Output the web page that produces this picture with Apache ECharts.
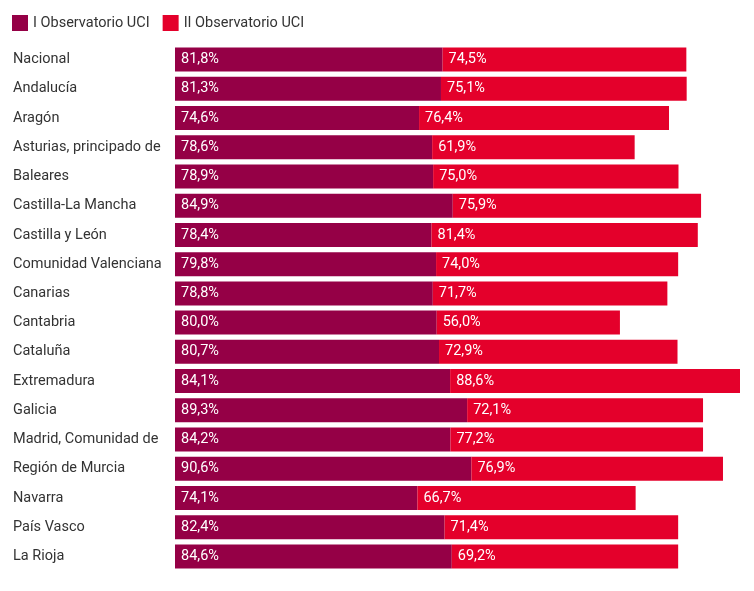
<!DOCTYPE html>
<html><head><meta charset="utf-8">
<script src="https://cdn.jsdelivr.net/npm/echarts@6/dist/echarts.min.js"></script>
<style>html,body{margin:0;padding:0;background:#fff}#c{width:754px;height:591px}</style>
</head><body><div id="c"></div>
<script>
const categories = ["Nacional","Andalucía","Aragón","Asturias, principado de","Baleares","Castilla-La Mancha","Castilla y León","Comunidad Valenciana","Canarias","Cantabria","Cataluña","Extremadura","Galicia","Madrid, Comunidad de","Región de Murcia","Navarra","País Vasco","La Rioja"];
const seriesNames = ["I Observatorio UCI","II Observatorio UCI"];
const obs1 = [81.8,81.3,74.6,78.6,78.9,84.9,78.4,79.8,78.8,80.0,80.7,84.1,89.3,84.2,90.6,74.1,82.4,84.6];
const obs2 = [74.5,75.1,76.4,61.9,75.0,75.9,81.4,74.0,71.7,56.0,72.9,88.6,72.1,77.2,76.9,66.7,71.4,69.2];
const colors = ["#950046","#e4002b"];

const totalMax = Math.max(...obs1.map((v,i)=>v+obs2[i]));
const fmt = p => p.value.toFixed(1).replace('.', ',') + '%';
const FS = 14.5;
const chart = echarts.init(document.getElementById('c'));
chart.setOption({
  animation:false,
  textStyle:{fontFamily:'Roboto'},
  legend:{left:12,top:15,padding:0,itemWidth:16,itemHeight:16,itemGap:13,icon:'rect',
    textStyle:{fontSize:FS,color:'#333',fontFamily:'Roboto'},data:seriesNames},
  grid:{left:175,right:14,top:45,bottom:20,containLabel:false},
  xAxis:{type:'value',min:0,max:totalMax,show:false},
  yAxis:{type:'category',data:categories,inverse:true,
    axisLine:{show:false},axisTick:{show:false},
    axisLabel:{align:'left',margin:162,fontSize:FS,color:'#333',fontFamily:'Roboto'}},
  series:[
    {name:seriesNames[0],type:'bar',stack:'t',data:obs1,barWidth:24,itemStyle:{color:colors[0]},
     label:{show:true,position:'insideLeft',distance:6,color:'#fff',fontSize:FS,fontFamily:'Roboto',formatter:fmt}},
    {name:seriesNames[1],type:'bar',stack:'t',data:obs2,barWidth:24,itemStyle:{color:colors[1]},
     label:{show:true,position:'insideLeft',distance:6,color:'#fff',fontSize:FS,fontFamily:'Roboto',formatter:fmt}}
  ]
});
</script></body></html>
